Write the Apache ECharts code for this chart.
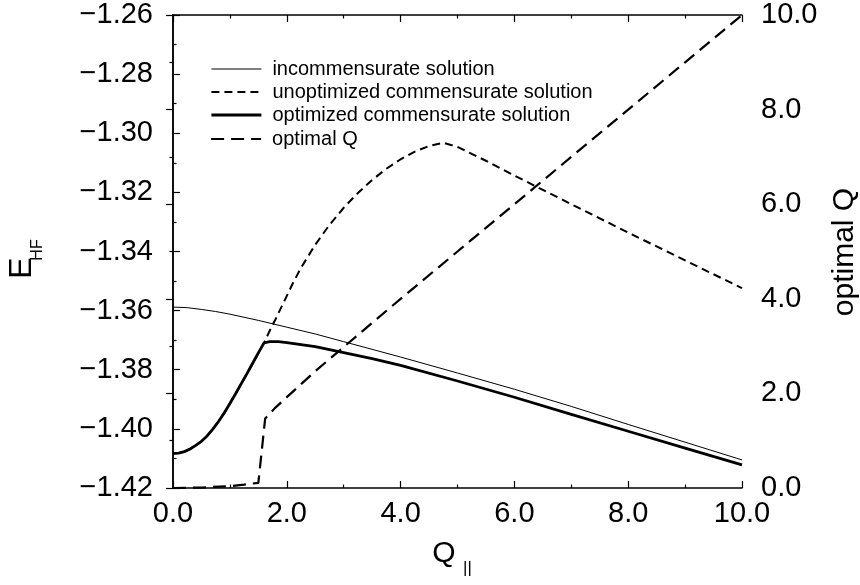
<!DOCTYPE html>
<html>
<head>
<meta charset="utf-8">
<script src="https://cdn.jsdelivr.net/npm/echarts@6/dist/echarts.min.js"></script>
<style>html,body{margin:0;padding:0;background:#fff}#c{width:860px;height:585px}</style>
</head>
<body>
<div id="c"></div>
<script>
// ---- data ----
var xInc = [0, 0.25, 0.5, 0.75, 1.0, 1.5, 2.0, 2.5, 3.0, 4.0, 5.0, 6.0, 7.0, 8.0, 9.0, 10.0];
var yInc = [-1.3588, -1.3590, -1.3596, -1.3603, -1.3612, -1.3633, -1.3656, -1.3679, -1.3705, -1.3757, -1.3811, -1.3866, -1.3924, -1.3985, -1.4045, -1.4105];

var xUnopt = [0, 0.1, 0.2, 0.3, 0.4, 0.5, 0.6, 0.7, 0.8, 0.9, 1.0, 1.1, 1.2, 1.3, 1.4, 1.5, 1.6, 1.7, 1.8, 1.9, 2.0, 2.1, 2.25, 2.5, 2.75, 3.0, 3.25, 3.5, 3.75, 4.0, 4.25, 4.5, 4.75, 5.0, 5.5, 6.0, 7.0, 8.0, 9.0, 10.0];
var yUnopt = [-1.4083, -1.4082, -1.4077, -1.4068, -1.4056, -1.4042, -1.4024, -1.4001, -1.3975, -1.3946, -1.3914, -1.3881, -1.3847, -1.3813, -1.3778, -1.3743, -1.3709, -1.3668, -1.3630, -1.3590, -1.3550, -1.3510, -1.3455, -1.3377, -1.3310, -1.3252, -1.3202, -1.3158, -1.3120, -1.3088, -1.3062, -1.3043, -1.3032, -1.3046, -1.3093, -1.3143, -1.3240, -1.3336, -1.3430, -1.3524];

var xOpt = [0, 0.1, 0.2, 0.3, 0.4, 0.5, 0.6, 0.7, 0.8, 0.9, 1.0, 1.1, 1.2, 1.3, 1.4, 1.5, 1.6, 1.7, 1.85, 2.0, 2.5, 3.0, 3.5, 4.0, 5.0, 6.0, 7.0, 8.0, 9.0, 10.0];
var yOpt = [-1.4083, -1.4082, -1.4077, -1.4068, -1.4056, -1.4042, -1.4024, -1.4001, -1.3975, -1.3946, -1.3914, -1.3881, -1.3847, -1.3813, -1.3778, -1.3743, -1.3709, -1.3705, -1.3705, -1.3708, -1.3722, -1.3742, -1.3762, -1.3785, -1.3838, -1.3893, -1.3951, -1.4008, -1.4065, -1.4122];

var xQ = [0, 0.5, 1.0, 1.25, 1.5, 1.62, 1.8, 2.0, 2.5, 3.0, 4.0, 5.0, 6.0, 7.0, 8.0, 9.0, 10.0];
var yQ = [0, 0.01, 0.04, 0.07, 0.11, 1.47, 1.70, 1.92, 2.47, 2.98, 4.0, 5.0, 6.0, 7.0, 8.0, 9.0, 10.0];

var names = ['incommensurate solution', 'unoptimized commensurate solution', 'optimized commensurate solution', 'optimal Q'];

function pairs(xs, ys) { return xs.map(function (x, i) { return [x, ys[i]]; }); }
function minus(s) { return s.replace('-', '\u2212'); }

var FONT = '"Liberation Sans", Arial, Helvetica, sans-serif';
var tickLabel = { color: '#000', fontSize: 29, fontFamily: FONT };
var axLine = { show: true, lineStyle: { color: '#000', width: 1.5 } };
var tick = { show: true, inside: true, length: 7, lineStyle: { color: '#000', width: 1.2 } };
var minor = { show: true, splitNumber: 2, length: 3.5, lineStyle: { color: '#000', width: 1.2 } };
var legText = { fontSize: 20, fontFamily: FONT, color: '#000', padding: [0, 0, 0, 6] };

var styles = [
  { color: '#000', width: 1 },
  { color: '#000', width: 2, type: [8, 5] },
  { color: '#000', width: 2.8 },
  { color: '#000', width: 2.2, type: [13, 7] }
];
function legItem(i) { return { name: names[i], lineStyle: styles[i] }; }

var chart = echarts.init(document.getElementById('c'), null, { renderer: 'canvas' });
chart.setOption({
  animation: false,
  backgroundColor: '#fff',
  grid: { left: 173, right: 118, top: 15, bottom: 97, containLabel: false },
  legend: [{
    data: [legItem(0), legItem(1), legItem(2)],
    orient: 'vertical', left: 205, top: 54, itemWidth: 50, itemHeight: 14, itemGap: 3,
    itemStyle: { opacity: 0 }, textStyle: legText, selectedMode: false
  }, {
    data: [legItem(3)],
    orient: 'vertical', left: 205, top: 124, itemWidth: 50, itemHeight: 14,
    itemStyle: { opacity: 0 }, textStyle: legText, selectedMode: false
  }],
  xAxis: [{
    type: 'value', min: 0, max: 10, interval: 2, position: 'bottom',
    axisLine: axLine, axisTick: tick, minorTick: minor, splitLine: { show: false },
    axisLabel: Object.assign({ margin: 11, formatter: function (v) { return v.toFixed(1); } }, tickLabel)
  }, {
    type: 'value', min: 0, max: 10, interval: 2, position: 'top',
    axisLine: axLine, axisTick: tick, minorTick: minor, splitLine: { show: false },
    axisLabel: { show: false }
  }],
  yAxis: [{
    type: 'value', min: -1.42, max: -1.26, interval: 0.02, position: 'left',
    axisLine: axLine, axisTick: tick, minorTick: minor, splitLine: { show: false },
    axisLabel: Object.assign({ margin: 20, formatter: function (v) { return minus(v.toFixed(2)); } }, tickLabel)
  }, {
    type: 'value', min: 0, max: 10, interval: 2, position: 'right',
    axisLine: axLine, axisTick: tick, minorTick: minor, splitLine: { show: false },
    axisLabel: Object.assign({ margin: 19, formatter: function (v) { return v.toFixed(1); } }, tickLabel)
  }],
  series: [{
    name: names[0], type: 'line', xAxisIndex: 0, yAxisIndex: 0, symbol: 'none',
    data: pairs(xInc, yInc), lineStyle: styles[0], itemStyle: { color: '#000' }
  }, {
    name: names[1], type: 'line', xAxisIndex: 0, yAxisIndex: 0, symbol: 'none',
    data: pairs(xUnopt, yUnopt), lineStyle: styles[1], itemStyle: { color: '#000' }
  }, {
    name: names[2], type: 'line', xAxisIndex: 0, yAxisIndex: 0, symbol: 'none',
    data: pairs(xOpt, yOpt), lineStyle: styles[2], itemStyle: { color: '#000' }
  }, {
    name: names[3], type: 'line', xAxisIndex: 0, yAxisIndex: 1, symbol: 'none',
    data: pairs(xQ, yQ), lineStyle: styles[3], itemStyle: { color: '#000' }
  }],
  graphic: [
    { type: 'text', x: 22, y: 268, rotation: Math.PI / 2,
      style: { text: 'E', fontSize: 32, fontFamily: FONT, fill: '#000', textAlign: 'center', textVerticalAlign: 'middle' } },
    { type: 'text', x: 38, y: 250, rotation: Math.PI / 2,
      style: { text: 'HF', fontSize: 16, fontFamily: FONT, fill: '#000', textAlign: 'center', textVerticalAlign: 'middle' } },
    { type: 'text', x: 444, y: 554,
      style: { text: 'Q', fontSize: 30, fontFamily: FONT, fill: '#000', textAlign: 'center', textVerticalAlign: 'middle' } },
    { type: 'text', x: 467.5, y: 568.5,
      style: { text: '||', fontSize: 17, fontFamily: FONT, fill: '#000', textAlign: 'center', textVerticalAlign: 'middle' } },
    { type: 'text', x: 845, y: 252, rotation: Math.PI / 2,
      style: { text: 'optimal Q', fontSize: 30, fontFamily: FONT, fill: '#000', textAlign: 'center', textVerticalAlign: 'middle' } }
  ]
});
</script>
</body>
</html>
